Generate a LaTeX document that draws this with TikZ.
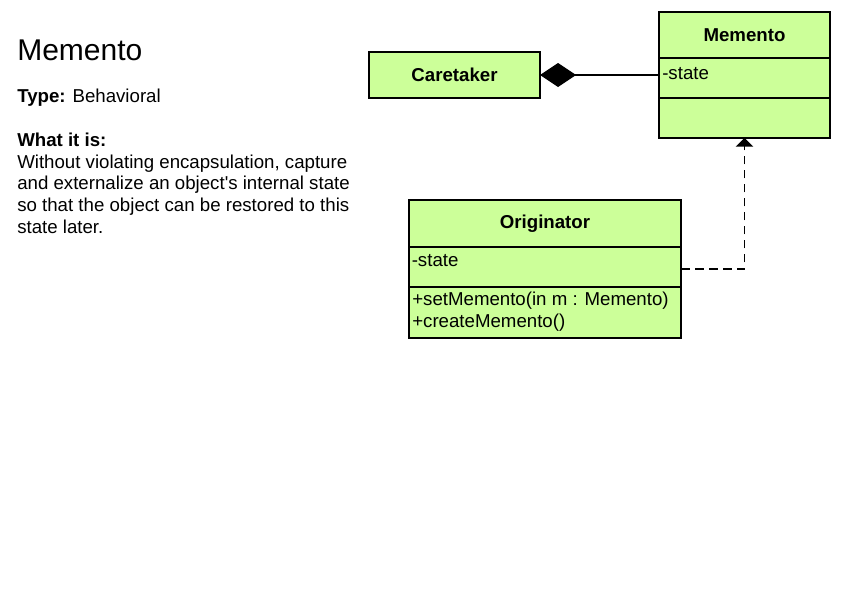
\documentclass[tikz,border=0pt]{standalone}
\usepackage{fontspec}
\setmainfont{Liberation Sans}
\usetikzlibrary{calc, positioning, arrows.meta}
\definecolor{classgreen}{RGB}{204,255,153}

\begin{document}
\begin{tikzpicture}[
    x=0.75pt, y=-0.75pt,
    node distance=0pt,
    >=Stealth,
    font=\fontsize{14}{16.3}\selectfont,
    classpart/.style={draw, line width=1.5pt, fill=classgreen, inner sep=0pt, outer sep=0pt},
    classname/.style={classpart, font=\fontsize{14}{16.3}\selectfont\bfseries},
    member/.style={inner sep=0pt, anchor=base west},
    textline/.style={inner sep=0pt, anchor=base west, align=left}
  ]
  \useasboundingbox (0,0) rectangle (847,600);

  % pattern description
  \node[textline, font=\fontsize{22.5}{26}\selectfont] (title) at (17,60) {Memento};
  \node[textline] (type) at (17,102.7) {\textbf{Type:} Behavioral};
  \node[textline] (whatis) at (17,233.3) {\textbf{What it is:}\\
    Without violating encapsulation, capture\\
    and externalize an object\textquotesingle s internal state\\
    so that the object can be restored to this\\
    state later.};

  % classes
  \node[classname, minimum width=128.25pt, minimum height=34.5pt] (caretaker) at (454.5,75) {Caretaker};

  \node[classname, minimum width=128.25pt, minimum height=34.5pt] (memento) at (744.5,35) {Memento};
  \node[classpart, minimum width=128.25pt, minimum height=30pt, below=of memento] (mattr) {};
  \node[classpart, minimum width=128.25pt, minimum height=30pt, below=of mattr] (mmeth) {};
  \node[member] (mstate) at ([shift={(3,21)}]mattr.north west) {-state};

  \node[classname, minimum width=204pt, minimum height=34.9pt] (originator) at (545,223.25) {Originator};
  \node[classpart, minimum width=204pt, minimum height=30.4pt, below=of originator] (oattr) {};
  \node[classpart, minimum width=204pt, minimum height=37.9pt, below=of oattr] (ometh) {};
  \node[member] (ostate) at ([shift={(2.5,19.5)}]oattr.north west) {-state};
  \node[member] (setm) at ([shift={(3,18)}]ometh.north west) {+setMemento(in m : Memento)};
  \node[member] (createm) at ([shift={(3,40)}]ometh.north west) {+createMemento()};

  % relations
  \draw[line width=0.8pt, {Diamond[length=27pt, width=18pt]}-] (caretaker.east) -- (caretaker.east -| mattr.west);
  \draw[line width=1.1pt, dash pattern=on 6.5pt off 4pt, -{Triangle[length=6.5pt, width=13pt]}]
    ([yshift=-1.5pt]oattr.east) -| (mmeth.south);
\end{tikzpicture}
\end{document}
